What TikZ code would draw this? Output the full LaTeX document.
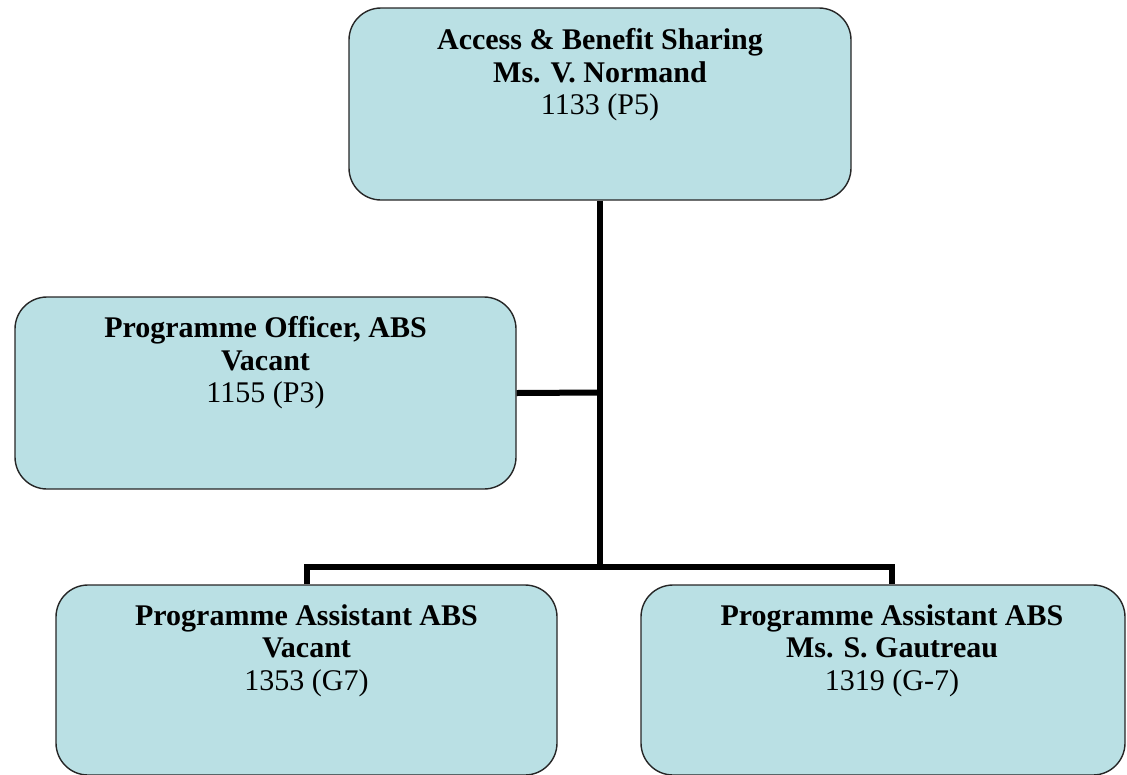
\documentclass[tikz,border=0pt]{standalone}
\usepackage{fontspec}
\setmainfont{Liberation Serif}
\begin{document}
\begin{tikzpicture}[x=1pt,y=-1pt,
  box/.style={draw=black!85, line width=1.4pt, fill=boxfill, rounded corners=32pt, inner sep=0pt},
  lbl/.style={anchor=north, inner sep=0pt, align=center, font=\fontsize{30}{32.5}\selectfont},
  conn/.style={line width=6pt, line join=miter, black}]
\definecolor{boxfill}{RGB}{186,224,228}
\useasboundingbox (0,0) rectangle (1127,774);
% connector junctions
\coordinate (j1) at (600,392.5);
\coordinate (j2) at (600,566.5);
\coordinate (j3) at (892,566.5);
\coordinate (j4) at (307,566.5);
% boxes
\node[box, minimum width=502pt, minimum height=192pt] (top) at (600,104) {};
\node[box, minimum width=501pt, minimum height=192pt] (lb) at (265.5,393) {};
\node[box, minimum width=501pt, minimum height=190pt] (bl) at (306.5,680) {};
\node[box, minimum width=484pt, minimum height=190pt] (br) at (883,680) {};
\draw[conn] (top.south) -- (j2);
\draw[conn] (j1) -- (lb.east);
\draw[conn] (j4 |- bl.north) -- (j4) -- (j3) -- (j3 |- br.north);
% texts
\node[lbl] (ttop) at ([yshift=-21pt]top.north) {\textbf{Access \& Benefit Sharing}\\ \textbf{Ms. V. Normand}\\ 1133 (P5)};
\node[lbl] (tlb) at ([yshift=-20pt]lb.north) {\textbf{Programme Officer, ABS}\\ \textbf{Vacant}\\ 1155 (P3)};
\node[lbl] (tbl) at ([yshift=-20pt]bl.north) {\textbf{Programme Assistant ABS}\\ \textbf{Vacant}\\ 1353 (G7)};
\node[lbl] (tbr) at ([yshift=-20pt,xshift=9pt]br.north) {\textbf{Programme Assistant ABS}\\ \textbf{Ms. S. Gautreau}\\ 1319 (G-7)};
\end{tikzpicture}
\end{document}
